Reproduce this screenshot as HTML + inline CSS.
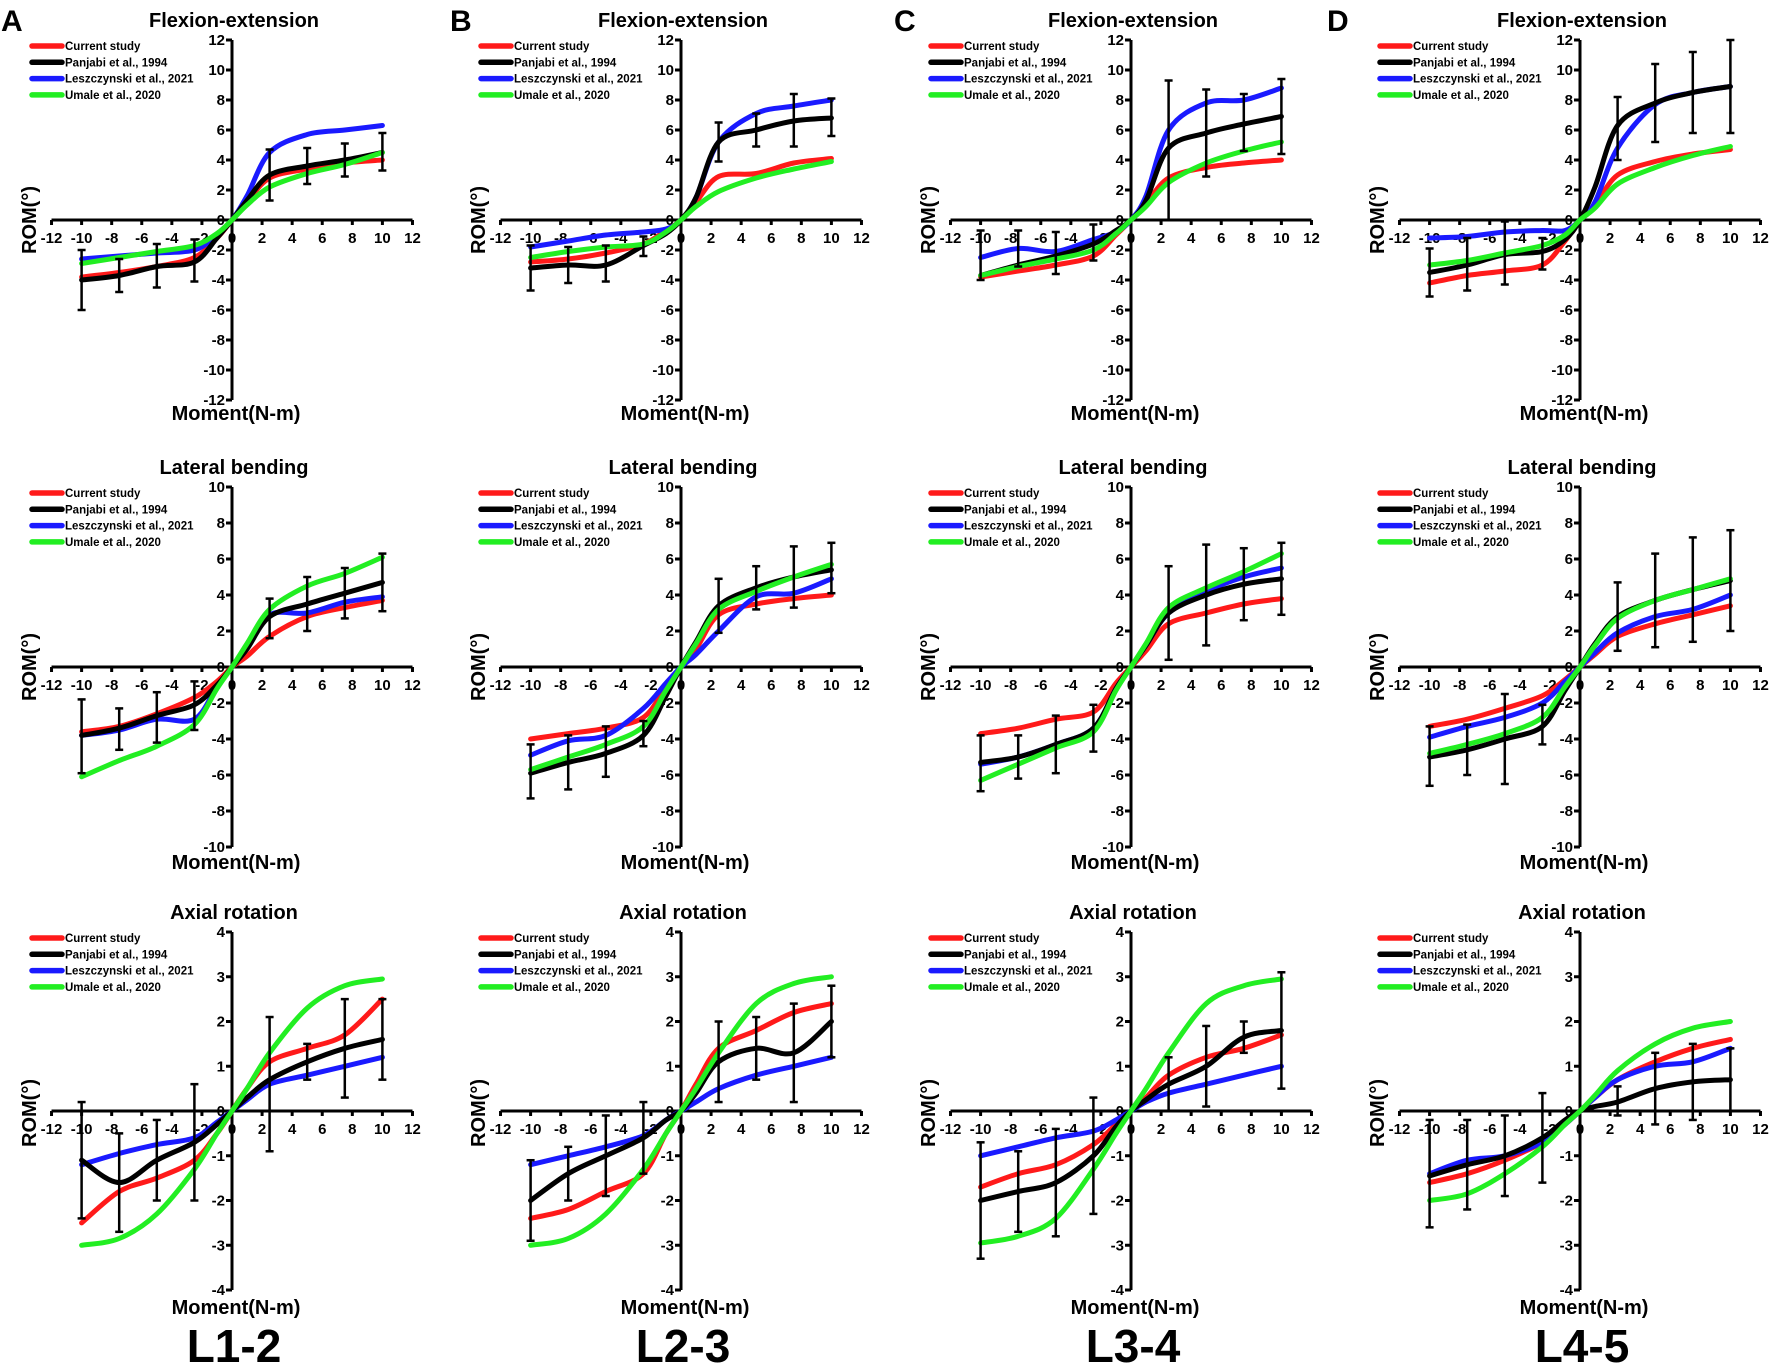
<!DOCTYPE html>
<html><head><meta charset="utf-8"><style>
html,body{margin:0;padding:0;background:#fff;}
svg{display:block;font-family:"Liberation Sans",Arial,sans-serif;font-weight:bold;}
</style></head><body>
<svg id="fig" width="1772" height="1365" viewBox="0 0 1772 1365" xmlns="http://www.w3.org/2000/svg"></svg>
<script>
// ---------- data ----------
const moments = [-10,-7.5,-5,-2.5,-1,0,1,2.5,5,7.5,10];
const errMoments = [-10,-7.5,-5,-2.5,2.5,5,7.5,10];
const seriesNames = ["Current study","Panjabi et al., 1994","Leszczynski et al., 2021","Umale et al., 2020"];
const seriesColors = ["#ff1a1a","#000000","#1a1aff","#22ee22"];
const segments = ["L1-2","L2-3","L3-4","L4-5"];
const panelLetters = ["A","B","C","D"];
const motions = ["Flexion-extension","Lateral bending","Axial rotation"];
const yTicksFE = [-12,-10,-8,-6,-4,-2,0,2,4,6,8,10,12];
const yTicksLB = [-10,-8,-6,-4,-2,0,2,4,6,8,10];
const yTicksAR = [-4,-3,-2,-1,0,1,2,3,4];
const xTicks = [-12,-10,-8,-6,-4,-2,0,2,4,6,8,10,12];

// Flexion-extension [red, black, blue, green] per segment
const feCurrent = [[-3.8,-3.5,-3.1,-2.5,-1.2,0,1.2,2.8,3.4,3.8,4.0],[-2.8,-2.6,-2.2,-1.6,-0.7,0,1.2,2.9,3.1,3.8,4.1],[-3.8,-3.4,-3.0,-2.4,-1.0,0,1.1,2.8,3.5,3.8,4.0],[-4.2,-3.7,-3.4,-3.0,-1.4,0,1.0,3.0,3.9,4.4,4.7]];
const fePanjabi = [[-4.0,-3.7,-3.1,-2.8,-1.2,0,1.3,3.0,3.6,4.0,4.5],[-3.2,-3.0,-3.0,-1.7,-0.9,0,1.5,5.2,6.0,6.6,6.8],[-3.7,-3.0,-2.4,-1.6,-0.7,0,1.3,4.8,5.8,6.4,6.9],[-3.5,-3.0,-2.3,-2.1,-1.3,0,2.2,6.3,7.8,8.5,8.9]];
const feLesz = [[-2.6,-2.4,-2.2,-2.0,-1.0,0,1.6,4.5,5.7,6.0,6.3],[-1.8,-1.4,-1.0,-0.8,-0.6,0,1.5,5.2,7.1,7.6,8.0],[-2.5,-1.9,-2.1,-1.3,-0.8,0,1.6,6.0,7.8,8.0,8.8],[-1.2,-1.1,-0.8,-0.7,-0.7,0,1.2,4.8,7.7,8.5,8.9]];
const feUmale = [[-2.9,-2.5,-2.1,-1.7,-0.9,0,1.0,2.2,3.1,3.7,4.5],[-2.5,-2.1,-1.8,-1.6,-0.8,0,0.9,1.9,2.8,3.4,3.9],[-3.7,-3.1,-2.6,-2.0,-0.9,0,0.9,2.5,3.8,4.6,5.2],[-3.0,-2.7,-2.2,-1.7,-1.0,0,0.8,2.4,3.5,4.3,4.9]];
const feErrLow = [[-6,-4.8,-4.5,-4.1,1.3,2.4,2.9,3.3],[-4.7,-4.2,-4.1,-2.4,3.9,4.9,4.9,5.6],[-4.0,-3.1,-3.6,-2.7,0,2.9,4.6,4.4],[-5.1,-4.7,-4.3,-3.3,4.0,5.2,5.8,5.8]];
const feErrHigh = [[-2,-2.6,-1.6,-1.3,4.7,4.8,5.1,5.8],[-1.7,-1.8,-1.7,-1.1,6.5,7.1,8.4,8.1],[-0.7,-0.7,-0.8,-0.3,9.3,8.7,8.4,9.4],[-1.9,-1.2,-0.1,-1.2,8.2,10.4,11.2,12.0]];

// Lateral bending
const lbCurrent = [[-3.6,-3.3,-2.6,-1.7,-0.8,0,0.6,1.7,2.8,3.3,3.7],[-4.0,-3.7,-3.4,-2.8,-1.1,0,1.0,2.9,3.5,3.8,4.0],[-3.7,-3.4,-2.9,-2.5,-0.9,0,0.9,2.4,3.0,3.5,3.8],[-3.3,-2.9,-2.3,-1.6,-0.7,0,0.7,1.7,2.4,2.9,3.4]];
const lbPanjabi = [[-3.8,-3.4,-2.7,-2.1,-1.0,0,1.0,2.8,3.5,4.1,4.7],[-5.9,-5.3,-4.8,-3.8,-1.6,0,1.4,3.4,4.4,5.0,5.4],[-5.3,-5.0,-4.3,-3.4,-1.2,0,1.2,3.0,4.0,4.6,4.9],[-5.0,-4.6,-4.0,-3.3,-1.3,0,1.3,2.8,3.7,4.3,4.8]];
const lbLesz = [[-3.8,-3.5,-2.9,-2.9,-1.1,0,1.1,2.9,3.0,3.6,3.9],[-4.9,-4.1,-3.8,-2.3,-0.9,0,0.7,2.0,3.9,4.1,4.9],[-5.4,-5.0,-4.3,-3.4,-1.2,0,1.2,3.0,4.2,5.0,5.5],[-3.9,-3.3,-2.8,-2.0,-0.8,0,0.8,1.9,2.8,3.2,4.0]];
const lbUmale = [[-6.1,-5.2,-4.4,-3.2,-1.2,0,1.3,3.2,4.5,5.2,6.1],[-5.7,-5.0,-4.3,-3.3,-1.3,0,1.3,3.2,4.2,5.0,5.7],[-6.3,-5.4,-4.5,-3.6,-1.3,0,1.3,3.3,4.4,5.3,6.3],[-4.8,-4.3,-3.7,-2.8,-1.1,0,1.2,2.7,3.7,4.3,4.9]];
const lbErrLow = [[-5.9,-4.6,-4.2,-3.5,1.6,2.0,2.7,3.1],[-7.3,-6.8,-6.1,-4.4,1.9,3.2,3.3,4.1],[-6.9,-6.2,-5.9,-4.7,0.4,1.2,2.6,2.9],[-6.6,-6.0,-6.5,-4.3,0.9,1.1,1.4,2.0]];
const lbErrHigh = [[-1.8,-2.3,-1.4,-0.8,3.8,5.0,5.5,6.3],[-4.3,-3.8,-3.3,-3.0,4.9,5.6,6.7,6.9],[-3.8,-3.8,-2.7,-2.1,5.6,6.8,6.6,6.9],[-3.3,-3.2,-1.5,-2.1,4.7,6.3,7.2,7.6]];

// Axial rotation
const arCurrent = [[-2.5,-1.8,-1.5,-1.1,-0.5,0,0.5,1.1,1.4,1.7,2.5],[-2.4,-2.2,-1.8,-1.4,-0.5,0,0.6,1.4,1.8,2.2,2.4],[-1.7,-1.4,-1.2,-0.75,-0.3,0,0.3,0.8,1.2,1.4,1.7],[-1.6,-1.4,-1.1,-0.7,-0.3,0,0.3,0.7,1.1,1.4,1.6]];
const arPanjabi = [[-1.1,-1.6,-1.1,-0.7,-0.3,0,0.3,0.7,1.1,1.4,1.6],[-2.0,-1.4,-1.0,-0.6,-0.2,0,0.4,1.1,1.4,1.3,2.0],[-2.0,-1.8,-1.6,-1.0,-0.35,0,0.25,0.6,1.0,1.65,1.8],[-1.45,-1.2,-1.0,-0.6,-0.2,0,0.1,0.2,0.5,0.65,0.7]];
const arLesz = [[-1.2,-0.95,-0.75,-0.6,-0.25,0,0.25,0.6,0.8,1.0,1.2],[-1.2,-1.0,-0.8,-0.55,-0.2,0,0.2,0.5,0.8,1.0,1.2],[-1.0,-0.8,-0.6,-0.45,-0.2,0,0.2,0.4,0.6,0.8,1.0],[-1.4,-1.1,-1.0,-0.7,-0.3,0,0.3,0.7,1.0,1.1,1.4]];
const arUmale = [[-3.0,-2.85,-2.3,-1.3,-0.5,0,0.5,1.3,2.3,2.8,2.95],[-3.0,-2.85,-2.3,-1.3,-0.5,0,0.5,1.3,2.4,2.85,3.0],[-2.95,-2.8,-2.4,-1.3,-0.5,0,0.5,1.3,2.4,2.8,2.95],[-2.0,-1.85,-1.4,-0.8,-0.3,0,0.35,0.9,1.5,1.85,2.0]];
const arErrLow = [[-2.4,-2.7,-2.0,-2.0,-0.9,0.7,0.3,0.7],[-2.9,-2.0,-1.9,-1.4,0.2,0.7,0.2,1.2],[-3.3,-2.7,-2.8,-2.3,0,0.1,1.3,0.5],[-2.6,-2.2,-1.9,-1.6,-0.1,-0.3,-0.2,0.0]];
const arErrHigh = [[0.2,-0.5,-0.2,0.6,2.1,1.5,2.5,2.5],[-1.1,-0.8,-0.1,0.2,2.0,2.1,2.4,2.8],[-0.7,-0.9,-0.4,0.3,1.2,1.9,2.0,3.1],[-0.2,-0.2,-0.1,0.4,0.55,1.3,1.5,1.4]];

// ---------- drawing ----------
const NS = "http://www.w3.org/2000/svg";
const svg = document.getElementById("fig");
function mk(tag, attrs, parent){
  const e = document.createElementNS(NS, tag);
  for (const k in attrs) e.setAttribute(k, attrs[k]);
  (parent || svg).appendChild(e);
  return e;
}
const colX = [232, 681, 1131, 1580];
const rowDefs = [
  {zeroY:220, topY:40, max:12, ticks:yTicksFE, title:20, legY:46, romY:220, momY:413,
   series:[feCurrent,fePanjabi,feLesz,feUmale], lo:feErrLow, hi:feErrHigh, key:"fe"},
  {zeroY:667, topY:487, max:10, ticks:yTicksLB, title:467, legY:493, romY:667, momY:862,
   series:[lbCurrent,lbPanjabi,lbLesz,lbUmale], lo:lbErrLow, hi:lbErrHigh, key:"lb"},
  {zeroY:1111, topY:932, max:4, ticks:yTicksAR, title:912, legY:938, romY:1113, momY:1307,
   series:[arCurrent,arPanjabi,arLesz,arUmale], lo:arErrLow, hi:arErrHigh, key:"ar"}
];
const xUnit = 15.04;

function smoothPath(pts){
  let d = "M" + pts[0][0].toFixed(1) + "," + pts[0][1].toFixed(1);
  for (let i = 0; i < pts.length - 1; i++){
    const p0 = pts[Math.max(0,i-1)], p1 = pts[i], p2 = pts[i+1], p3 = pts[Math.min(pts.length-1,i+2)];
    const c1x = p1[0] + (p2[0]-p0[0])/6, c1y = p1[1] + (p2[1]-p0[1])/6;
    const c2x = p2[0] - (p3[0]-p1[0])/6, c2y = p2[1] - (p3[1]-p1[1])/6;
    d += " C" + c1x.toFixed(1)+","+c1y.toFixed(1)+" "+c2x.toFixed(1)+","+c2y.toFixed(1)+" "+p2[0].toFixed(1)+","+p2[1].toFixed(1);
  }
  return d;
}

rowDefs.forEach((row, r) => {
  const yUnit = (row.zeroY - row.topY) / row.max;
  colX.forEach((X0, c) => {
    const g = mk("g", {});
    
    
    const sx = v => X0 + v * xUnit;
    const sy = v => row.zeroY - v * yUnit;

    const t = mk("text", {x:X0+2, y:row.title+7, "font-size":20, "text-anchor":"middle"}, g);
    t.textContent = motions[r];
    
    

    const xa = mk("line", {x1:sx(-12), x2:sx(12), y1:row.zeroY, y2:row.zeroY, stroke:"#000", "stroke-width":3}, g);
    
    
    const ya = mk("line", {x1:X0, x2:X0, y1:sy(row.max), y2:sy(-row.max), stroke:"#000", "stroke-width":3}, g);
    
    
    xTicks.forEach(v => {
      mk("line", {x1:sx(v), x2:sx(v), y1:row.zeroY, y2:row.zeroY+5, stroke:"#000", "stroke-width":3}, g);
      const tl = mk("text", {x:sx(v), y:row.zeroY+23, "font-size":15, "text-anchor":"middle"}, g);
      tl.textContent = v;
      
      
    });
    row.ticks.forEach(v => {
      mk("line", {x1:X0-6, x2:X0, y1:sy(v), y2:sy(v), stroke:"#000", "stroke-width":3}, g);
      const tl = mk("text", {x:X0-7, y:sy(v)+5, "font-size":15, "text-anchor":"end"}, g);
      tl.textContent = v;
      
      
    });

    const rom = mk("text", {x:0, y:0, "font-size":20, "text-anchor":"middle", transform:"translate("+(X0-196)+","+row.romY+") rotate(-90)"}, g);
    rom.textContent = "ROM(°)";
    
    
    const mom = mk("text", {x:X0+4, y:row.momY+7, "font-size":20, "text-anchor":"middle"}, g);
    mom.textContent = "Moment(N-m)";
    
    

    [0,2,1,3].forEach(s => {
      const vals = row.series[s][c];
      const pts = moments.map((m, i) => [sx(m), sy(vals[i])]);
      const p = mk("path", {d:smoothPath(pts), fill:"none", stroke:seriesColors[s], "stroke-width":5, "stroke-linecap":"round", "stroke-linejoin":"round"}, g);
      
      
    });

    errMoments.forEach((m, i) => {
      const lo = row.lo[c][i], hi = row.hi[c][i];
      const eg = mk("g", {stroke:"#000", "stroke-width":2.5}, g);
      
      
      mk("line", {x1:sx(m), x2:sx(m), y1:sy(lo), y2:sy(hi)}, eg);
      mk("line", {x1:sx(m)-4, x2:sx(m)+4, y1:sy(lo), y2:sy(lo)}, eg);
      mk("line", {x1:sx(m)-4, x2:sx(m)+4, y1:sy(hi), y2:sy(hi)}, eg);
    });

    seriesNames.forEach((nm, s) => {
      const ly = row.legY + s * 16.3;
      const lg = mk("g", {}, g);
      
      
      mk("line", {x1:X0-200, x2:X0-170, y1:ly, y2:ly, stroke:seriesColors[s], "stroke-width":5.5, "stroke-linecap":"round"}, lg);
      const lt = mk("text", {x:X0-167, y:ly+4, "font-size":11.5}, lg);
      lt.textContent = nm;
    });

    if (r === 0){
      const pl = mk("text", {x:X0-231 - (c===3?22:0) - (c===2?6:0), y:31, "font-size":30}, g);
      pl.textContent = panelLetters[c];
      
      
    }
    if (r === 2){
      const sl = mk("text", {x:X0+2, y:1362, "font-size":46, "text-anchor":"middle"}, g);
      sl.textContent = segments[c];
      
      
    }
  });
});
</script>
</body></html>
